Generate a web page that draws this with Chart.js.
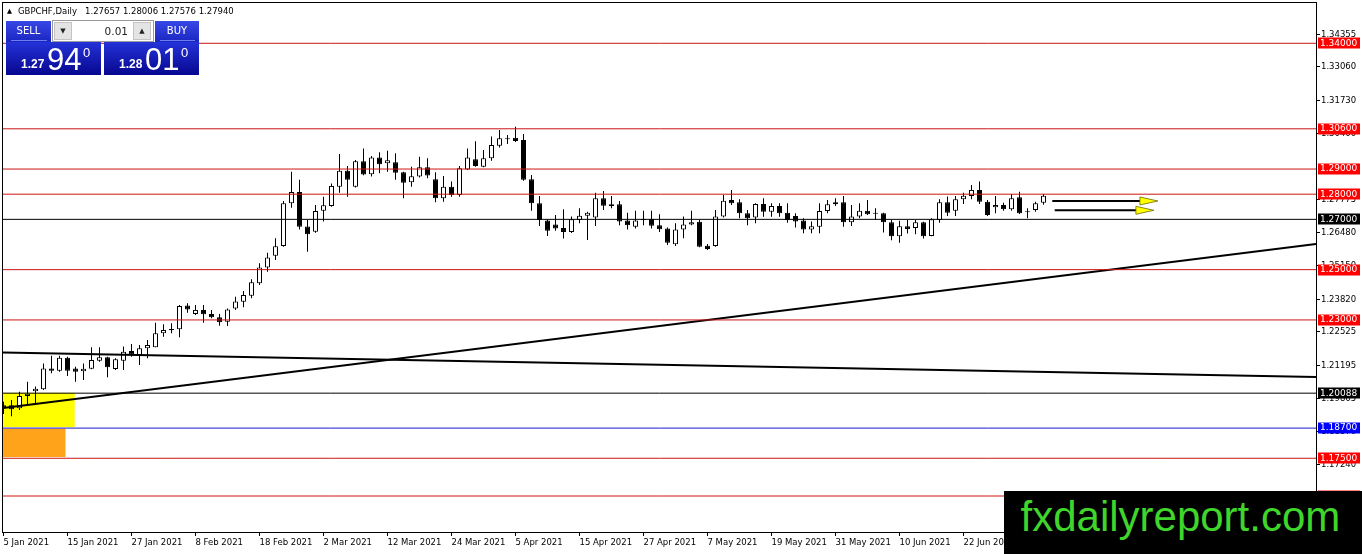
<!DOCTYPE html>
<html><head><meta charset="utf-8">
<script src="https://cdn.jsdelivr.net/npm/chart.js@4.4.1/dist/chart.umd.min.js"></script>
<style>
html,body{margin:0;padding:0;background:#fff;overflow:hidden;width:1362px;height:554px;}
#wrap{position:relative;width:1362px;height:554px;}
#c{position:absolute;left:0;top:0;}
#hdr{position:absolute;left:7px;top:5px;font:8.5px 'DejaVu Sans';line-height:12px;color:#000;white-space:nowrap;}
#hdr .tri{font-size:6.5px;margin-right:6px;position:relative;top:-1px;}
.hd{position:absolute;top:21px;height:21px;background:linear-gradient(#3848e4,#1a26c2);color:#fff;font:10px 'DejaVu Sans';line-height:20px;text-align:center;}
.hd i{position:absolute;left:5px;right:4px;bottom:1px;height:1px;background:#6f7cf0;}
.pb{position:absolute;top:42px;width:95px;height:33px;background:linear-gradient(#2432d8,#07078f);color:#fff;font-family:'Liberation Sans';}
.pb span{position:absolute;line-height:1;white-space:nowrap;}
.pb .s{left:15px;top:16px;font-size:12px;font-weight:bold;}
.pb .b{left:41px;top:1.8px;font-size:31px;}
.pb .u{left:77px;top:3.7px;font-size:13px;}
#lot{position:absolute;left:52px;top:20px;width:100px;height:20px;background:#fff;border:1px solid #9a9a9a;}
#lot .bt{position:absolute;top:1px;width:18px;height:18px;background:#e4e4e4;border:1px solid #c4c4c4;box-sizing:border-box;font:7px 'DejaVu Sans';line-height:17px;text-align:center;color:#222;}
#lot .v{position:absolute;left:20px;width:55px;top:0;text-align:right;font:10.5px 'DejaVu Sans';line-height:20px;color:#222;}
#wm{position:absolute;left:1004px;top:491px;width:358px;height:63px;background:#000;}
#wmt{position:absolute;left:1020.5px;top:496px;font:42px 'Liberation Sans';line-height:42px;color:#3fd52b;white-space:nowrap;}
</style></head><body>
<div id="wrap">
<canvas id="c" width="1362" height="554"></canvas>
<div id="hdr"><span class="tri">▲</span>GBPCHF,Daily&nbsp;&nbsp; 1.27657 1.28006 1.27576 1.27940</div>
<div class="hd" style="left:6px;width:45px;">SELL<i></i></div>
<div id="lot"><div class="bt" style="left:1px;">▼</div><div class="v">0.01</div><div class="bt" style="left:80px;">▲</div></div>
<div class="hd" style="left:155px;width:44px;">BUY<i></i></div>
<div class="pb" style="left:6px;"><span class="s">1.27</span><span class="b">94</span><span class="u">0</span></div>
<div class="pb" style="left:104px;"><span class="s">1.28</span><span class="b">01</span><span class="u">0</span></div>
<div id="wm"></div>
<div id="wmt">fxdailyreport.com</div>
</div>
<script>
// ---- data (daily GBPCHF bars, index 0 = 5 Jan 2021) ----
const opens = [
1.1961,1.1961,1.1949,1.1998,1.2017,1.2024,1.2107,1.2098,1.2150,1.2107,
1.2096,1.2106,1.2138,1.2152,1.2105,1.2138,1.2177,1.2161,1.2187,1.2191,
1.2247,1.2264,1.2263,1.2357,1.2324,1.2340,1.2324,1.2311,1.2293,1.2346,
1.2372,1.2396,1.2446,1.2509,1.2555,1.2594,1.2764,1.2809,1.2672,1.2651,
1.2734,1.2753,1.2830,1.2893,1.2830,1.2931,1.2879,1.2946,1.2923,1.2927,
1.2887,1.2847,1.2870,1.2907,1.2859,1.2784,1.2830,1.2797,1.2898,1.2939,
1.2909,1.2943,1.2993,1.3018,1.3024,1.3015,1.2859,1.2764,1.2695,1.2680,
1.2666,1.2650,1.2697,1.2714,1.2707,1.2784,1.2760,1.2760,1.2695,1.2671,
1.2701,1.2701,1.2677,1.2664,1.2601,1.2660,1.2680,1.2690,1.2595,1.2594,
1.2711,1.2777,1.2768,1.2724,1.2707,1.2761,1.2730,1.2753,1.2726,1.2713,
1.2695,1.2660,1.2671,1.2733,1.2760,1.2768,1.2688,1.2711,1.2734,1.2724,
1.2724,1.2688,1.2633,1.2673,1.2666,1.2688,1.2634,1.2697,1.2768,1.2734,
1.2780,1.2793,1.2817,1.2770,1.2748,1.2757,1.2740,1.2788,1.2730,1.2737,
1.27657];
const highs = [
1.1975,1.1982,1.2015,1.2054,1.2035,1.2127,1.2158,1.2158,1.2154,1.2114,
1.2127,1.2191,1.2191,1.2154,1.2148,1.2194,1.2204,1.2200,1.2220,1.2289,
1.2283,1.2287,1.2359,1.2366,1.2359,1.2359,1.2340,1.2324,1.2346,1.2392,
1.2415,1.2462,1.2525,1.2567,1.2625,1.2773,1.2889,1.2857,1.2697,1.2757,
1.2790,1.2843,1.2960,1.2912,1.2936,1.2982,1.2952,1.2967,1.2973,1.2963,
1.2889,1.2909,1.2949,1.2943,1.2887,1.2872,1.2850,1.2912,1.2982,1.3011,
1.2976,1.3029,1.3055,1.3035,1.3068,1.3039,1.2876,1.2793,1.2700,1.2717,
1.2740,1.2711,1.2744,1.2730,1.2806,1.2813,1.2793,1.2773,1.2726,1.2734,
1.2734,1.2734,1.2720,1.2668,1.2684,1.2711,1.2734,1.2697,1.2602,1.2737,
1.2797,1.2817,1.2780,1.2737,1.2764,1.2784,1.2764,1.2764,1.2764,1.2724,
1.2704,1.2691,1.2764,1.2777,1.2784,1.2793,1.2757,1.2764,1.2777,1.2744,
1.2726,1.2697,1.2694,1.2697,1.2697,1.2690,1.2704,1.2780,1.2791,1.2793,
1.2806,1.2837,1.2850,1.2777,1.2793,1.2766,1.2801,1.2810,1.2744,1.2770,
1.28006];
const lows = [
1.1926,1.1917,1.1942,1.1962,1.1962,1.2021,1.2088,1.2094,1.2077,1.2054,
1.2061,1.2104,1.2134,1.2072,1.2101,1.2101,1.2154,1.2121,1.2148,1.2191,
1.2233,1.2247,1.2231,1.2329,1.2320,1.2289,1.2307,1.2277,1.2276,1.2340,
1.2350,1.2386,1.2439,1.2492,1.2538,1.2591,1.2746,1.2660,1.2571,1.2647,
1.2691,1.2750,1.2806,1.2790,1.2827,1.2875,1.2870,1.2883,1.2889,1.2857,
1.2784,1.2830,1.2866,1.2863,1.2768,1.2770,1.2790,1.2790,1.2896,1.2909,
1.2907,1.2933,1.2986,1.3000,1.3008,1.2853,1.2734,1.2674,1.2634,1.2655,
1.2624,1.2646,1.2684,1.2618,1.2674,1.2737,1.2744,1.2677,1.2660,1.2664,
1.2677,1.2664,1.2650,1.2598,1.2594,1.2625,1.2677,1.2589,1.2578,1.2591,
1.2707,1.2757,1.2704,1.2677,1.2684,1.2710,1.2710,1.2710,1.2686,1.2668,
1.2645,1.2645,1.2645,1.2724,1.2753,1.2671,1.2674,1.2704,1.2717,1.2697,
1.2648,1.2617,1.2607,1.2644,1.2641,1.2624,1.2633,1.2686,1.2713,1.2713,
1.2761,1.2780,1.2761,1.2713,1.2724,1.2734,1.2734,1.2721,1.2704,1.2730,
1.27576];
const closes = [
1.1949,1.1945,1.1998,1.2007,1.2026,1.2107,1.2098,1.2150,1.2098,1.2094,
1.2106,1.2141,1.2152,1.2112,1.2144,1.2174,1.2163,1.2187,1.2200,1.2247,
1.2260,1.2259,1.2355,1.2342,1.2340,1.2323,1.2311,1.2291,1.2342,1.2373,
1.2399,1.2450,1.2509,1.2548,1.2593,1.2764,1.2809,1.2671,1.2641,1.2733,
1.2756,1.2833,1.2893,1.2857,1.2931,1.2878,1.2946,1.2919,1.2935,1.2885,
1.2846,1.2871,1.2907,1.2874,1.2784,1.2830,1.2797,1.2903,1.2946,1.2912,
1.2943,1.2996,1.3022,1.3019,1.3012,1.2857,1.2764,1.2697,1.2655,1.2664,
1.2650,1.2700,1.2714,1.2726,1.2784,1.2754,1.2753,1.2691,1.2677,1.2695,
1.2697,1.2675,1.2661,1.2607,1.2660,1.2680,1.2688,1.2591,1.2582,1.2711,
1.2774,1.2764,1.2724,1.2704,1.2761,1.2730,1.2753,1.2724,1.2697,1.2691,
1.2660,1.2673,1.2733,1.2760,1.2768,1.2688,1.2711,1.2734,1.2720,1.2722,
1.2688,1.2633,1.2673,1.2662,1.2688,1.2633,1.2700,1.2768,1.2726,1.2780,
1.2794,1.2817,1.2770,1.2717,1.2757,1.2740,1.2784,1.2724,1.2728,1.2764,
1.27940];

// x-axis date ticks (bar index -> label)
const xTickIdx = [0,8,16,24,32,40,48,56,64,72,80,88,96,104,112,120,128];
const xTickLabels = ['5 Jan 2021','15 Jan 2021','27 Jan 2021','8 Feb 2021','18 Feb 2021','2 Mar 2021','12 Mar 2021','24 Mar 2021','5 Apr 2021','15 Apr 2021','27 Apr 2021','7 May 2021','19 May 2021','31 May 2021','10 Jun 2021','22 Jun 2021','2 Jul 2021'];
// y-axis price ticks
const yTickVals = [1.34355,1.33060,1.31730,1.30400,1.27775,1.26480,1.25150,1.23820,1.22525,1.21195,1.19865,1.18570,1.17240,1.15910];
// horizontal price levels
const levels = [1.34000,1.30600,1.29000,1.28000,1.27000,1.25000,1.23000,1.20088,1.18700,1.17500,1.16000];
const levelKind = ['r','r','r','r','k','r','r','k','b','r','r'];
// trend lines (price at left edge, price at right edge)
const trendUp = [1.1950, 1.2602];
const trendDown = [1.2171, 1.2073];
// zones [x from, x to] in bars, [top, bottom] in price
const zoneX0 = [-0.1, -0.1], zoneX1 = [8.9, 7.75];
const zoneTop = [1.2010, 1.1868], zoneBottom = [1.1874, 1.1755];
// arrows
const arrowX0 = [131.1, 131.4], arrowX1 = [144.3, 143.8], arrowPrice = [1.2773, 1.2736];

// ---- styles ----
const X_MIN = -0.0625, X_MAX = 164.0625, Y_MIN = 1.14529, Y_MAX = 1.35602;
const lineColor = {r:'#cc1414', k:'#000000', b:'#1a1acc'};
const tagColor = {r:'#ff0000', k:'#000000', b:'#0000ff'};
const zoneColor = ['#ffff00', '#ffa31a'];
Chart.defaults.font.family = 'DejaVu Sans';

const idx = opens.map((_, i) => i);
const up = idx.map(i => closes[i] >= opens[i]);

const datasets = [];
levels.forEach((lv, k) => datasets.push({
  type:'line', data:[{x:X_MIN-1,y:lv},{x:X_MAX+1,y:lv}], borderColor:lineColor[levelKind[k]],
  borderWidth:1, pointRadius:0, fill:false, tension:0
}));
[trendUp, trendDown].forEach(t => datasets.push({
  type:'line', data:[{x:X_MIN,y:t[0]},{x:X_MAX,y:t[1]}], borderColor:'#000',
  borderWidth:2, pointRadius:0, fill:false, tension:0
}));
datasets.push({
  type:'bar', data: idx.map(i => ({x:i, y:[opens[i], closes[i]]})),
  backgroundColor: idx.map(i => up[i] ? '#ffffff' : '#000000'),
  borderColor:'#000', borderWidth:1, borderSkipped:false, barThickness:5,
  grouped:false, minBarLength:1, inflateAmount:0
});
datasets.push({
  type:'bar', data: idx.map(i => ({x:i, y:[lows[i], highs[i]]})),
  backgroundColor:'#000', borderWidth:0, barThickness:1, grouped:false, inflateAmount:0
});

const deco = {
  id:'deco',
  beforeDatasetsDraw(chart){
    const {ctx, chartArea:a} = chart, x = chart.scales.x, y = chart.scales.y;
    ctx.save(); ctx.beginPath(); ctx.rect(a.left, a.top, a.right-a.left, a.bottom-a.top); ctx.clip();
    zoneX0.forEach((_, k) => {
      const x0 = x.getPixelForValue(zoneX0[k]), x1 = x.getPixelForValue(zoneX1[k]);
      const y0 = y.getPixelForValue(zoneTop[k]), y1 = y.getPixelForValue(zoneBottom[k]);
      ctx.fillStyle = zoneColor[k]; ctx.fillRect(x0, y0, x1-x0, y1-y0);
    });
    ctx.restore();
  },
  afterDatasetsDraw(chart){
    const {ctx, chartArea:a} = chart, x = chart.scales.x, y = chart.scales.y;
    ctx.save(); ctx.beginPath(); ctx.rect(a.left, a.top, a.right-a.left, a.bottom-a.top); ctx.clip();
    arrowX0.forEach((_, k) => {
      const x0 = x.getPixelForValue(arrowX0[k]), x1 = x.getPixelForValue(arrowX1[k]);
      const py = y.getPixelForValue(arrowPrice[k]);
      ctx.strokeStyle = '#000'; ctx.lineWidth = 2;
      ctx.beginPath(); ctx.moveTo(x0, py); ctx.lineTo(x1-14, py); ctx.stroke();
      ctx.beginPath(); ctx.moveTo(x1, py); ctx.lineTo(x1-18, py-4); ctx.lineTo(x1-18, py+4); ctx.closePath();
      ctx.fillStyle = '#ffff00'; ctx.fill(); ctx.lineWidth = 0.8; ctx.strokeStyle = '#6b6b00'; ctx.stroke();
    });
    ctx.restore();
    ctx.save(); ctx.strokeStyle = '#000'; ctx.lineWidth = 1;
    ctx.strokeRect(a.left-0.5, a.top-0.5, a.right-a.left+1, a.bottom-a.top);
    ctx.restore();
  },
  afterDraw(chart){
    const {ctx, chartArea:a} = chart, y = chart.scales.y;
    ctx.save(); ctx.font = '9px "DejaVu Sans"'; ctx.textBaseline = 'middle'; ctx.textAlign = 'left';
    levels.forEach((lv, k) => {
      const py = y.getPixelForValue(lv);
      ctx.fillStyle = tagColor[levelKind[k]]; ctx.fillRect(a.right+2, Math.round(py)-5.5, 42, 11);
      ctx.fillStyle = '#fff'; ctx.fillText(lv.toFixed(5), a.right+4, py);
    });
    ctx.restore();
  }
};

new Chart(document.getElementById('c'), {
  type:'bar',
  data:{datasets},
  options:{
    responsive:false, animation:false, devicePixelRatio:1,
    layout:{padding:{left:3, top:3, right:0, bottom:0}},
    plugins:{legend:{display:false}, tooltip:{enabled:false}},
    scales:{
      x:{type:'linear', min:X_MIN, max:X_MAX, offset:false,
        grid:{drawOnChartArea:false, drawTicks:true, tickLength:3, color:'#000', offset:false},
        border:{display:false},
        ticks:{autoSkip:false, maxRotation:0, minRotation:0, align:'start', padding:2, color:'#000',
          font:{size:8.5}, callback:(v)=>{const k = xTickIdx.indexOf(v); return k>=0 ? xTickLabels[k] : '';}},
        afterBuildTicks:(s)=>{ s.ticks = xTickIdx.map(v=>({value:v})); },
        afterFit:(s)=>{ s.height = 21; s.paddingLeft = 0; s.paddingRight = 0; }
      },
      y:{type:'linear', position:'right', min:Y_MIN, max:Y_MAX,
        grid:{drawOnChartArea:false, drawTicks:true, tickLength:4, color:'#000'},
        border:{display:false},
        ticks:{padding:1, color:'#000', font:{size:8.5}, callback:(v)=>Number(v).toFixed(5)},
        afterBuildTicks:(s)=>{ s.ticks = yTickVals.map(v=>({value:v})); },
        afterFit:(s)=>{ s.width = 46; s.paddingTop = 0; s.paddingBottom = 0; }
      }
    }
  },
  plugins:[deco]
});
</script>
</body></html>
